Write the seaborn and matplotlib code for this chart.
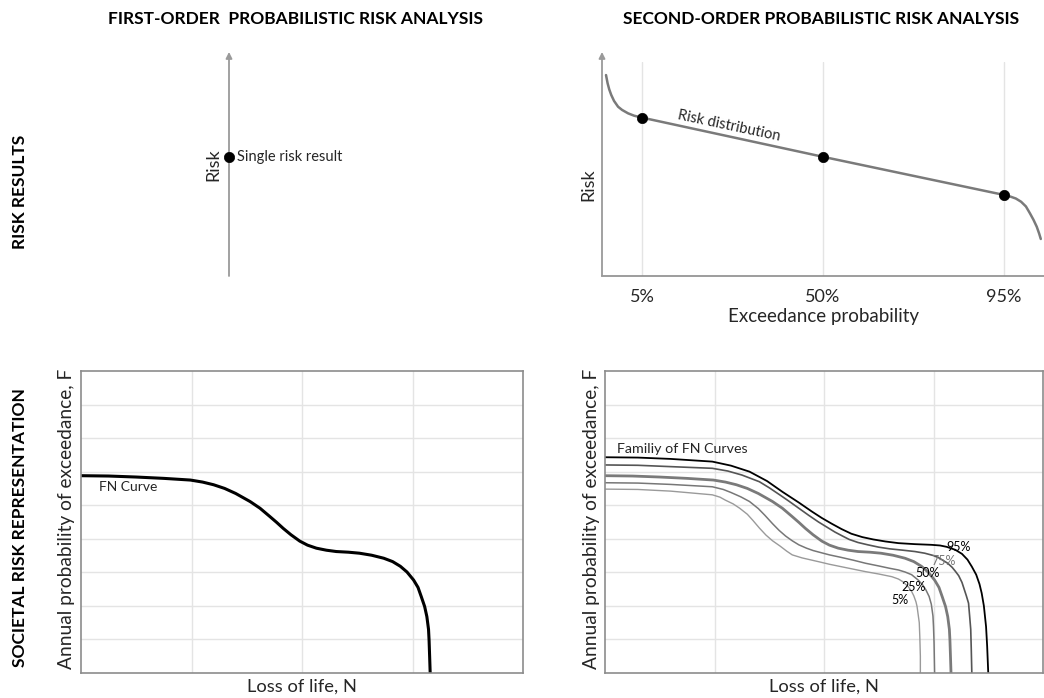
import matplotlib
matplotlib.use("Agg")
import matplotlib.pyplot as plt
import seaborn as sns

# ---- First-order result: one risk value ----
single_risk = 5.57

# ---- Second-order result: risk against exceedance probability (%) ----
exceed_pct = [-4.0, -3.6, -3.2, -2.7, -2.0, -1.0, 0.0, 1.5, 3.0, 5.0, 50.0, 95.0,
              96.5, 98.0, 99.3, 100.5, 101.5, 102.4, 103.2, 103.8, 104.2]
risk_curve = [9.39, 9.00, 8.72, 8.46, 8.18, 7.91, 7.76, 7.60, 7.49, 7.40, 5.57, 3.79,
              3.72, 3.62, 3.47, 3.25, 2.93, 2.62, 2.30, 1.98, 1.73]
marked_pct = [5, 50, 95]
marked_risk = [7.40, 5.57, 3.79]
pct_labels = ["5%", "50%", "95%"]

# ---- Single FN curve (also the median of the family) ----
fn_n = [0.00, 0.25, 0.50, 0.75, 0.99, 1.10, 1.20, 1.30, 1.40, 1.53, 1.62, 1.71, 1.77,
        1.83, 1.90, 1.98, 2.05, 2.13, 2.22, 2.31, 2.42, 2.52, 2.63, 2.74, 2.82, 2.89,
        2.95, 3.01, 3.05, 3.08, 3.11, 3.13, 3.145, 3.15, 3.155, 3.16]
fn_f = [5.88, 5.87, 5.84, 5.80, 5.75, 5.69, 5.61, 5.50, 5.35, 5.11, 4.91, 4.66, 4.49,
        4.31, 4.12, 3.93, 3.81, 3.72, 3.66, 3.62, 3.60, 3.57, 3.51, 3.42, 3.32, 3.18,
        3.01, 2.77, 2.55, 2.27, 1.98, 1.68, 1.30, 0.98, 0.50, 0.00]

# ---- Family of FN curves by percentile ----
p95_n = [0.00, 0.30, 0.60, 0.98, 1.15, 1.32, 1.48, 1.62, 1.77, 1.89, 1.98, 2.07, 2.16,
         2.25, 2.35, 2.45, 2.56, 2.68, 2.83, 2.98, 3.06, 3.12, 3.20, 3.26, 3.31, 3.35,
         3.39, 3.42, 3.44, 3.46, 3.48, 3.49, 3.50]
p95_f = [6.43, 6.42, 6.38, 6.30, 6.18, 6.00, 5.72, 5.40, 5.08, 4.81, 4.62, 4.45, 4.29,
         4.15, 4.05, 3.98, 3.92, 3.87, 3.84, 3.82, 3.80, 3.76, 3.67, 3.55, 3.38, 3.17,
         2.93, 2.65, 2.38, 2.00, 1.38, 0.80, 0.00]

p75_n = [0.00, 0.30, 0.60, 0.98, 1.12, 1.25, 1.41, 1.50, 1.60, 1.68, 1.77, 1.86, 1.95,
         2.03, 2.10, 2.17, 2.23, 2.31, 2.40, 2.50, 2.60, 2.72, 2.83, 2.92, 3.00, 3.05,
         3.08, 3.13, 3.17, 3.20, 3.23, 3.26, 3.28, 3.30, 3.32, 3.33, 3.34, 3.345, 3.35]
p75_f = [6.20, 6.19, 6.15, 6.10, 6.02, 5.90, 5.70, 5.52, 5.30, 5.12, 4.91, 4.70, 4.50,
         4.34, 4.20, 4.08, 3.98, 3.89, 3.82, 3.75, 3.70, 3.66, 3.62, 3.57, 3.50, 3.43,
         3.37, 3.27, 3.15, 3.03, 2.90, 2.70, 2.50, 2.30, 2.08, 1.70, 1.30, 0.70, 0.00]

p50_n = fn_n
p50_f = fn_f

p25_n = [0.00, 0.30, 0.60, 0.98, 1.08, 1.15, 1.24, 1.32, 1.40, 1.46, 1.53, 1.59, 1.65,
         1.71, 1.77, 1.84, 1.90, 1.98, 2.05, 2.15, 2.27, 2.38, 2.50, 2.60, 2.68, 2.74,
         2.80, 2.86, 2.90, 2.93, 2.96, 2.98, 2.995, 3.00, 3.005, 3.01]
p25_f = [5.67, 5.66, 5.62, 5.55, 5.47, 5.38, 5.25, 5.11, 4.90, 4.70, 4.45, 4.25, 4.08,
         3.94, 3.82, 3.72, 3.65, 3.58, 3.52, 3.45, 3.36, 3.27, 3.19, 3.12, 3.07, 3.01,
         2.93, 2.77, 2.63, 2.48, 2.28, 2.05, 1.70, 1.38, 0.90, 0.00]

p5_n = [0.00, 0.30, 0.60, 0.98, 1.05, 1.10, 1.17, 1.23, 1.30, 1.35, 1.41, 1.47, 1.53,
        1.60, 1.66, 1.71, 1.80, 1.88, 1.96, 2.05, 2.20, 2.38, 2.50, 2.62, 2.68, 2.72,
        2.77, 2.80, 2.82, 2.84, 2.85, 2.87, 2.875, 2.88, 2.88]
p5_f = [5.48, 5.47, 5.42, 5.31, 5.24, 5.15, 5.04, 4.91, 4.73, 4.55, 4.32, 4.11, 3.94,
        3.78, 3.63, 3.52, 3.43, 3.37, 3.31, 3.24, 3.14, 3.02, 2.95, 2.87, 2.80, 2.72,
        2.57, 2.43, 2.30, 2.12, 1.98, 1.50, 1.08, 0.50, 0.00]

family_labels = ["95%", "75%", "50%", "25%", "5%"]

sns.set_theme(style="white")
plt.rcParams["font.family"] = ["Lato", "DejaVu Sans"]

W, H = 1044, 698
fig = plt.figure(figsize=(W / 100, H / 100), dpi=100)


def rect(left, top, right, bottom):
    """Pixel box (from the top-left corner) to a figure-fraction rectangle."""
    return [left / W, 1 - bottom / H, (right - left) / W, (bottom - top) / H]


AXIS_GREY = "#8c8c8c"
GRID_GREY = "#e4e4e4"
ARROW_GREY = "#9a9a9a"

# ---------------- headings ----------------
head_kw = dict(fontsize=12.5, fontweight="bold", ha="center", va="center", color="black")
fig.text(295 / W, 1 - 19 / H, "FIRST-ORDER  PROBABILISTIC RISK ANALYSIS", **head_kw)
fig.text(821 / W, 1 - 19 / H, "SECOND-ORDER PROBABILISTIC RISK ANALYSIS", **head_kw)
fig.text(20 / W, 1 - 192 / H, "RISK RESULTS", rotation=90, **head_kw)
fig.text(20 / W, 1 - 528 / H, "SOCIETAL RISK REPRESENTATION", rotation=90, **head_kw)

# ---------------- first-order risk result ----------------
ax_tl = fig.add_axes(rect(229, 62, 523, 276))
ax_tl.set_xlim(0, 1)
ax_tl.set_ylim(0, 10)
for s in ax_tl.spines.values():
    s.set_visible(False)
ax_tl.set_xticks([])
ax_tl.set_yticks([])
ax_tl.annotate("", xy=(0, 10.47), xytext=(0, 0), annotation_clip=False,
               arrowprops=dict(arrowstyle="-|>", color=ARROW_GREY, lw=1.3,
                               mutation_scale=9, shrinkA=0, shrinkB=0))
sns.scatterplot(x=[0], y=[single_risk], color="black", s=55, ax=ax_tl,
                zorder=5, clip_on=False, edgecolor="black", linewidth=0.5)
ax_tl.annotate("Single risk result", xy=(0, single_risk), xytext=(6, 0),
               textcoords="offset points", va="center", ha="left", fontsize=10.5)
ax_tl.text(-16 / 294, 1 - (165 - 62) / 214, "Risk", transform=ax_tl.transAxes,
           rotation=90, ha="center", va="center", fontsize=13)

# ---------------- second-order risk distribution ----------------
ax_tr = fig.add_axes(rect(602, 62, 1044, 276))
sns.lineplot(x=exceed_pct, y=risk_curve, color="#7a7a7a", lw=1.8, sort=False,
             estimator=None, ax=ax_tr, zorder=3)
sns.scatterplot(x=marked_pct, y=marked_risk, color="black", s=55, ax=ax_tr,
                zorder=5, edgecolor="black", linewidth=0.5)
ax_tr.set_xlim(-5, 105)
ax_tr.set_ylim(0, 10)
ax_tr.set_xticks(marked_pct)
ax_tr.set_xticklabels(pct_labels, fontsize=13)
ax_tr.set_yticks([])
ax_tr.tick_params(axis="x", length=0, pad=9.5)
ax_tr.grid(axis="x", color=GRID_GREY, lw=1)
for side in ("top", "right", "left"):
    ax_tr.spines[side].set_visible(False)
ax_tr.spines["bottom"].set_color(AXIS_GREY)
ax_tr.spines["bottom"].set_linewidth(1.2)
ax_tr.annotate("", xy=(-5, 10.47), xytext=(-5, 0), annotation_clip=False,
               arrowprops=dict(arrowstyle="-|>", color=ARROW_GREY, lw=1.3,
                               mutation_scale=9, shrinkA=0, shrinkB=0))
ax_tr.text(26.7, 7.0, "Risk distribution", rotation=-12, rotation_mode="anchor",
           ha="center", va="center", fontsize=10.5)
ax_tr.set_xlabel("Exceedance probability", fontsize=13.5, labelpad=2.2)
ax_tr.set_ylabel("Risk", fontsize=13, va="center")
ax_tr.yaxis.set_label_coords(-14 / 442, 1 - (185 - 62) / 214)


# ---------------- FN panels ----------------
def fn_axes(box):
    ax = fig.add_axes(box)
    ax.set_xlim(0, 4)
    ax.set_ylim(0, 9)
    ax.set_xticks([1, 2, 3])
    ax.set_yticks(range(1, 9))
    ax.set_xticklabels([])
    ax.set_yticklabels([])
    ax.tick_params(length=3.5, color=GRID_GREY, width=1)
    ax.grid(True, color=GRID_GREY, lw=1)
    for s in ax.spines.values():
        s.set_color(AXIS_GREY)
        s.set_linewidth(1.2)
    ax.set_xlabel("Loss of life, N", fontsize=13.2, va="center")
    ax.xaxis.set_label_coords(0.5, -14 / 302)
    ax.set_ylabel("Annual probability of exceedance, F", fontsize=13.8, va="center")
    ax.yaxis.set_label_coords(-14 / 440, 0.512)
    return ax


ax_bl = fn_axes(rect(81, 371, 523, 673))
sns.lineplot(x=fn_n, y=fn_f, color="black", lw=2.2, sort=False, estimator=None,
             ax=ax_bl)
ax_bl.text(0.166, 5.55, "FN Curve", ha="left", va="center", fontsize=10)

ax_br = fn_axes(rect(605, 371, 1043, 673))
family = [
    (p95_n, p95_f, "black", 1.3),
    (p75_n, p75_f, "#555555", 1.2),
    (p50_n, p50_f, "#7a7a7a", 2.0),
    (p25_n, p25_f, "#777777", 1.1),
    (p5_n, p5_f, "#9a9a9a", 1.0),
]
for n_vals, f_vals, col, lw in family:
    sns.lineplot(x=n_vals, y=f_vals, color=col, lw=lw, sort=False, estimator=None,
                 ax=ax_br)
label_spots = [(3.23, 3.75), (3.09, 3.35), (2.95, 2.98), (2.82, 2.56), (2.69, 2.18)]
label_cols = ["black", "#777777", "black", "black", "black"]
for txt, (lx, ly), col in zip(family_labels, label_spots, label_cols):
    ax_br.text(lx, ly, txt, ha="center", va="center", fontsize=9, color=col)
ax_br.text(0.106, 6.68, "Familiy of FN Curves", ha="left", va="center", fontsize=10.3)

fig.savefig("out.png", dpi=100)
